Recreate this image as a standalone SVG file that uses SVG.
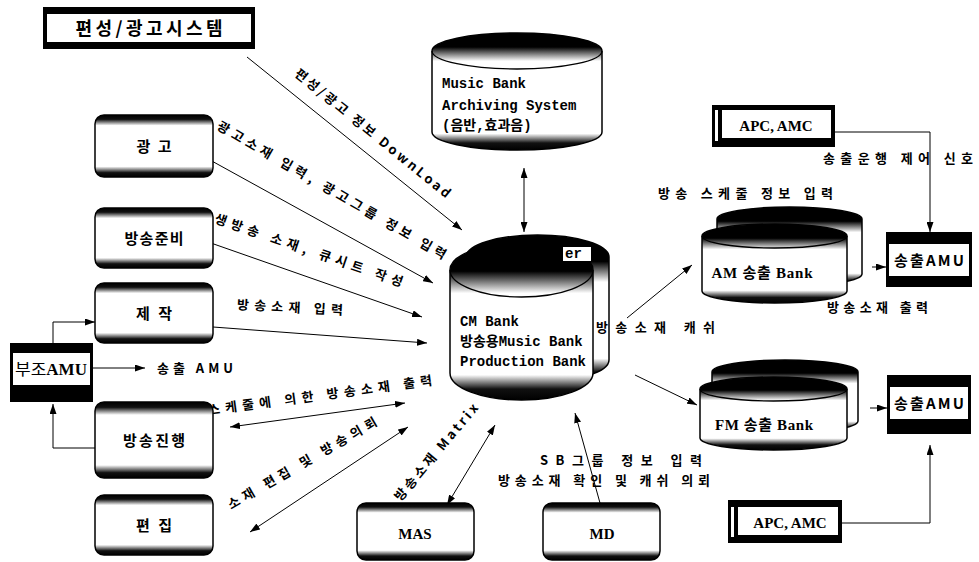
<svg xmlns="http://www.w3.org/2000/svg" width="979" height="562" viewBox="0 0 979 562">
<defs>
<linearGradient id="boxGrad" x1="0" y1="0" x2="0" y2="1">
<stop offset="0" stop-color="#000"/><stop offset="0.07" stop-color="#111"/><stop offset="0.17" stop-color="#fff"/>
<stop offset="0.83" stop-color="#fff"/><stop offset="0.93" stop-color="#111"/><stop offset="1" stop-color="#000"/>
</linearGradient>
<linearGradient id="cylGrad" x1="0" y1="0" x2="0" y2="1">
<stop offset="0" stop-color="#000"/><stop offset="0.12" stop-color="#000"/><stop offset="0.24" stop-color="#fff"/>
<stop offset="0.86" stop-color="#fff"/><stop offset="0.94" stop-color="#111"/><stop offset="1" stop-color="#000"/>
</linearGradient>
<linearGradient id="cylGrad2" x1="0" y1="0" x2="0" y2="1">
<stop offset="0" stop-color="#000"/><stop offset="0.18" stop-color="#000"/><stop offset="0.32" stop-color="#fff"/>
<stop offset="0.84" stop-color="#fff"/><stop offset="0.93" stop-color="#111"/><stop offset="1" stop-color="#000"/>
</linearGradient>
<marker id="ah" viewBox="0 0 10 7" refX="10" refY="3.5" markerWidth="10" markerHeight="7" markerUnits="userSpaceOnUse" orient="auto-start-reverse">
<path d="M0,0 L10,3.5 L0,7 z" fill="#000"/>
</marker>
<style>
.ln{fill:none;stroke:#000;stroke-width:1}
.box{fill:url(#boxGrad);stroke:#000;stroke-width:1.5}
.cyl{stroke:#000;stroke-width:1.5}
.rim{fill:none;stroke:#000;stroke-width:1.3}
.lbl{font-family:"Noto Sans CJK KR",sans-serif;font-weight:700;font-size:13px;fill:#000}
.bt{font-family:"Noto Sans CJK KR",sans-serif;font-weight:700;font-size:15px;fill:#000;text-anchor:middle}
.mono{font-family:"Liberation Mono","Noto Sans CJK KR",monospace;font-weight:700;font-size:14px;fill:#000}
.ser{font-family:"Liberation Serif","Noto Sans CJK KR",serif;font-weight:700;fill:#000;text-anchor:middle}
</style>
</defs>

<g id="connectors">
<line class="ln" x1="247" y1="57" x2="462" y2="230" marker-end="url(#ah)"/>
<line class="ln" x1="210" y1="160" x2="433" y2="283" marker-end="url(#ah)"/>
<line class="ln" x1="208" y1="242" x2="422" y2="317" marker-end="url(#ah)"/>
<line class="ln" x1="213" y1="327" x2="427" y2="343" marker-end="url(#ah)"/>
<line class="ln" x1="230" y1="427" x2="405" y2="403" marker-start="url(#ah)" marker-end="url(#ah)"/>
<line class="ln" x1="250" y1="532" x2="408" y2="427" marker-start="url(#ah)" marker-end="url(#ah)"/>
<line class="ln" x1="447" y1="505" x2="495" y2="425" marker-start="url(#ah)" marker-end="url(#ah)"/>
<line class="ln" x1="600" y1="503" x2="575" y2="413" marker-end="url(#ah)"/>
<line class="ln" x1="524" y1="168" x2="524" y2="232" marker-start="url(#ah)" marker-end="url(#ah)"/>
<line class="ln" x1="627" y1="318" x2="692" y2="265" marker-end="url(#ah)"/>
<line class="ln" x1="635" y1="375" x2="697" y2="405" marker-end="url(#ah)"/>
<line class="ln" x1="872" y1="267" x2="886" y2="267" marker-end="url(#ah)"/>
<line class="ln" x1="870" y1="408" x2="887" y2="408" marker-end="url(#ah)"/>
<path class="ln" d="M835,132 H930 V232" marker-end="url(#ah)"/>
<path class="ln" d="M842,523 H930 V445" marker-end="url(#ah)"/>
<path class="ln" d="M53,343 V322 H95" marker-end="url(#ah)"/>
<line class="ln" x1="93" y1="368" x2="145" y2="368" marker-end="url(#ah)"/>
<path class="ln" d="M95,448 H53 V404" marker-end="url(#ah)"/>

<text class="lbl" text-anchor="middle" transform="translate(373,133) rotate(39)" y="5" textLength="196" lengthAdjust="spacing">편성/광고 정보 DownLoad</text>
<text class="lbl" text-anchor="middle" transform="translate(332,190) rotate(30)" y="5" textLength="262" lengthAdjust="spacing">광고소재 입력, 광고그룹 정보 입력</text>
<text class="lbl" text-anchor="middle" transform="translate(309,250) rotate(19)" y="5" textLength="198" lengthAdjust="spacing">생방송 소재, 큐시트 작성</text>
<text class="lbl" text-anchor="middle" transform="translate(290,307) rotate(3)" y="5" textLength="106" lengthAdjust="spacing">방송소재 입력</text>
<text class="lbl" text-anchor="middle" transform="translate(320,395) rotate(-7.6)" y="5" textLength="226" lengthAdjust="spacing">스케줄에 의한 방송소재 출력</text>
<text class="lbl" text-anchor="middle" transform="translate(302,463) rotate(-30)" y="5" textLength="170" lengthAdjust="spacing">소재 편집 및 방송의뢰</text>
<text class="lbl" text-anchor="middle" transform="translate(436,452) rotate(-50)" y="5" textLength="122" lengthAdjust="spacing">방송소재 Matrix</text>
<text class="lbl" x="540" y="465" textLength="162" lengthAdjust="spacing">SB그룹 정보 입력</text>
<text class="lbl" x="498" y="485" textLength="212" lengthAdjust="spacing">방송소재 확인 및 캐쉬 의뢰</text>
<text class="lbl" x="658" y="198" textLength="175" lengthAdjust="spacing">방송 스케줄 정보 입력</text>
<text class="lbl" x="823" y="163" textLength="150" lengthAdjust="spacing">송출운행 제어 신호</text>
<text class="lbl" x="827" y="312" textLength="101" lengthAdjust="spacing">방송소재 출력</text>
<text class="lbl" x="157" y="373" textLength="76" lengthAdjust="spacing">송출 AMU</text>
</g>

<g id="n-pyeonseong">
<rect x="43" y="7" width="212" height="42" fill="#000"/>
<rect x="47" y="14" width="204" height="28" fill="#fff"/>
<text class="bt" x="149" y="35" style="font-size:18px" textLength="147" lengthAdjust="spacing">편성/광고시스템</text>
</g>

<g id="n-musicbank">
<path class="cyl" fill="url(#cylGrad)" d="M432,51 A85,18 0 0 1 602,51 L602,132 A85,18 0 0 1 432,132 Z"/>
<path class="rim" d="M432,51 A85,18 0 0 0 602,51"/>
<text class="mono" x="442" y="88">Music Bank</text>
<text class="mono" x="442" y="110">Archiving System</text>
<text class="mono" x="442" y="130">(음반,효과음)</text>
</g>

<g id="n-cmbank">
<path class="cyl" fill="url(#cylGrad2)" d="M466,257 A71.5,22 0 0 1 609,257 L609,360 A71.5,22 0 0 1 466,360 Z"/>
<path class="cyl" fill="url(#cylGrad2)" d="M450,270 A71.5,27 0 0 1 593,270 L593,373 A71.5,27 0 0 1 450,373 Z"/>
<path class="rim" d="M450,270 A71.5,27 0 0 0 593,270"/>
<rect x="563" y="247" width="28" height="14" fill="#fff"/>
<text class="mono" x="565" y="258">er</text>
<text class="mono" x="460" y="326">CM Bank</text>
<text class="mono" x="460" y="346">방송용Music Bank</text>
<text class="mono" x="460" y="366">Production Bank</text>
</g>

<g id="n-ambank">
<path class="cyl" fill="url(#cylGrad2)" d="M717,219 A72.5,12 0 0 1 862,219 L862,274 A72.5,12 0 0 1 717,274 Z"/>
<path class="cyl" fill="url(#cylGrad2)" d="M702,236 A72.5,12 0 0 1 847,236 L847,291 A72.5,12 0 0 1 702,291 Z"/>
<path class="rim" d="M702,236 A72.5,12 0 0 0 847,236"/>
<text class="ser" x="762" y="278" style="font-size:15px" textLength="101" lengthAdjust="spacing">AM 송출 Bank</text>
</g>

<g id="n-fmbank">
<path class="cyl" fill="url(#cylGrad2)" d="M712,372 A73,12 0 0 1 858,372 L858,421 A73,12 0 0 1 712,421 Z"/>
<path class="cyl" fill="url(#cylGrad2)" d="M700,389 A73.5,12 0 0 1 847,389 L847,438 A73.5,12 0 0 1 700,438 Z"/>
<path class="rim" d="M700,389 A73.5,12 0 0 0 847,389"/>
<text class="ser" x="764" y="430" style="font-size:15px" textLength="98" lengthAdjust="spacing">FM 송출 Bank</text>
</g>

<g id="n-apc-top">
<rect x="712" y="105" width="123" height="42" fill="#000"/>
<rect x="715" y="110" width="3" height="31" fill="#fff"/>
<rect x="722" y="110" width="109" height="28" fill="#fff"/>
<text class="ser" x="776" y="131" style="font-size:15px">APC, AMC</text>
</g>

<g id="n-apc-bottom">
<rect x="728" y="500" width="114" height="43" fill="#000"/>
<rect x="731" y="507" width="3" height="30" fill="#fff"/>
<rect x="738" y="507" width="100" height="28" fill="#fff"/>
<text class="ser" x="790" y="528" style="font-size:15px">APC, AMC</text>
</g>

<g id="n-amu-top">
<rect x="886" y="232" width="86" height="55" fill="#000"/>
<rect x="889" y="244" width="80" height="32" fill="#fff"/>
<text class="bt" x="929" y="266" style="font-size:15px" textLength="70" lengthAdjust="spacing">송출AMU</text>
</g>

<g id="n-amu-bottom">
<rect x="887" y="375" width="84" height="59" fill="#000"/>
<rect x="890" y="387" width="78" height="32" fill="#fff"/>
<text class="bt" x="929" y="409" style="font-size:15px" textLength="70" lengthAdjust="spacing">송출AMU</text>
</g>

<g id="n-gwanggo">
<rect class="box" x="95" y="115" width="118" height="62" rx="9"/>
<text class="bt" x="154" y="152" textLength="35" lengthAdjust="spacing">광고</text>
</g>
<g id="n-junbi">
<rect class="box" x="95" y="208" width="118" height="60" rx="9"/>
<text class="bt" x="154" y="244" textLength="59" lengthAdjust="spacing">방송준비</text>
</g>
<g id="n-jejak">
<rect class="box" x="95" y="283" width="118" height="60" rx="9"/>
<text class="bt" x="154" y="319" textLength="36" lengthAdjust="spacing">제작</text>
</g>
<g id="n-jinhaeng">
<rect class="box" x="95" y="402" width="118" height="76" rx="9"/>
<text class="bt" x="154" y="446" textLength="62" lengthAdjust="spacing">방송진행</text>
</g>
<g id="n-pyeonjip">
<rect class="box" x="95" y="495" width="118" height="60" rx="9"/>
<text class="bt" x="154" y="531" textLength="36" lengthAdjust="spacing">편집</text>
</g>
<g id="n-mas">
<rect class="box" x="357" y="503" width="117" height="57" rx="9"/>
<text class="ser" x="415" y="539" style="font-size:15px">MAS</text>
</g>
<g id="n-md">
<rect class="box" x="543" y="503" width="117" height="57" rx="9"/>
<text class="ser" x="602" y="539" style="font-size:15px">MD</text>
</g>

<g id="n-bujo">
<rect x="10" y="343" width="83" height="59" fill="#000"/>
<rect x="13" y="353" width="77" height="32" fill="#fff"/>
<text x="51" y="375" text-anchor="middle" style="font-family:'Noto Sans CJK KR',sans-serif;font-size:16px" textLength="72" lengthAdjust="spacingAndGlyphs">부조<tspan style="font-weight:700;font-family:'Liberation Serif',serif">AMU</tspan></text>
</g>

<g id="connector-labels-front">
<text class="lbl" x="596" y="332" textLength="119" lengthAdjust="spacing">방송소재 캐쉬</text>
</g>
</svg>
